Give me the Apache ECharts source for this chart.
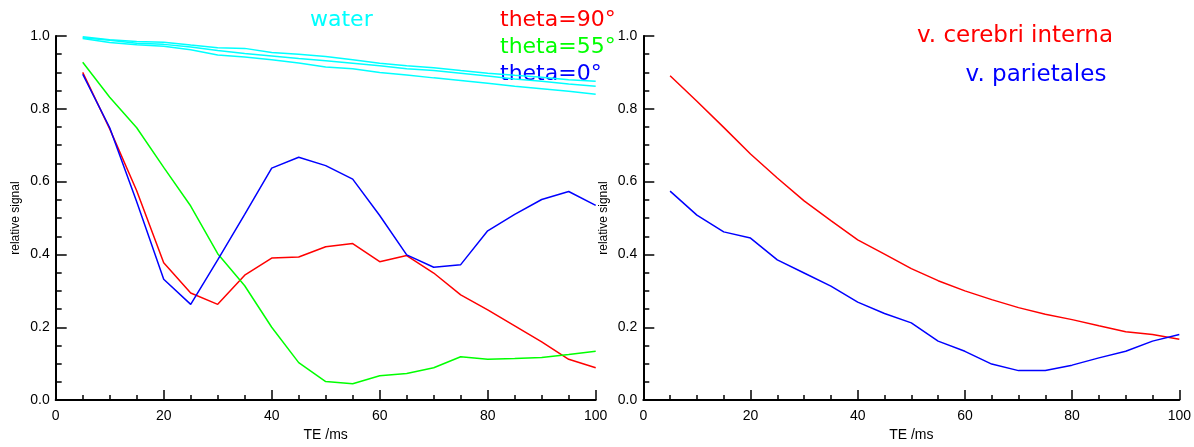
<!DOCTYPE html>
<html>
<head>
<meta charset="utf-8">
<script src="https://cdn.jsdelivr.net/npm/echarts@6/dist/echarts.min.js"></script>
<style>
html,body{margin:0;padding:0;background:#fff;}
#chart{width:1194px;height:447px;}
</style>
</head>
<body>
<div id="chart"></div>
<script>
// TE values (ms)
const te = [5,10,15,20,25,30,35,40,45,50,55,60,65,70,75,80,85,90,95,100];

// Left panel
const water1 = [0.998,0.990,0.985,0.983,0.975,0.968,0.966,0.955,0.950,0.944,0.935,0.925,0.918,0.913,0.905,0.898,0.892,0.887,0.880,0.876];
const water2 = [0.995,0.988,0.980,0.977,0.970,0.960,0.952,0.945,0.938,0.932,0.925,0.918,0.910,0.905,0.898,0.890,0.882,0.876,0.868,0.862];
const water3 = [0.993,0.982,0.976,0.972,0.962,0.948,0.942,0.935,0.926,0.915,0.910,0.900,0.893,0.885,0.878,0.870,0.862,0.855,0.848,0.840];
const theta90 = [0.900,0.745,0.575,0.377,0.294,0.263,0.343,0.390,0.393,0.421,0.430,0.380,0.397,0.349,0.289,0.248,0.204,0.160,0.112,0.089];
const theta55 = [0.928,0.832,0.748,0.639,0.533,0.402,0.314,0.200,0.103,0.051,0.045,0.067,0.073,0.089,0.119,0.112,0.114,0.117,0.125,0.134];
const theta0  = [0.895,0.748,0.545,0.332,0.263,0.385,0.510,0.637,0.667,0.644,0.607,0.507,0.399,0.365,0.372,0.465,0.510,0.551,0.573,0.535];

// Right panel
const cerebriInterna = [0.891,0.821,0.749,0.676,0.610,0.547,0.493,0.440,0.401,0.361,0.328,0.300,0.276,0.254,0.236,0.221,0.204,0.188,0.180,0.167];
const parietales     = [0.574,0.508,0.462,0.445,0.385,0.349,0.313,0.269,0.238,0.212,0.162,0.134,0.099,0.081,0.081,0.096,0.116,0.134,0.162,0.180];

// Labels
const xName = 'TE /ms';
const yName = 'relative signal';
const leftLabels = ['water','theta=90°','theta=55°','theta=0°'];
const rightLabels = ['v. cerebri interna','v. parietales'];

const RED='#ff0000', GREEN='#00ff00', BLUE='#0000ff', CYAN='#00ffff';

function pts(ys){ return te.map((t,i)=>[t,ys[i]]); }

const axisFont = 'Liberation Sans, Arial, sans-serif';
function xAx(gi){
  return {
    gridIndex: gi, type:'value', min:0, max:100, interval:20,
    name: xName, nameLocation:'middle', nameGap:18,
    nameTextStyle:{color:'#000', fontSize:14, fontFamily:axisFont},
    axisLine:{show:true, onZero:false, lineStyle:{color:'#000', width:2}},
    axisTick:{show:true, inside:true, length:10, lineStyle:{color:'#000', width:1.5}},
    minorTick:{show:true, splitNumber:4, length:5, lineStyle:{color:'#000', width:1.5}},
    axisLabel:{color:'#000', fontSize:14, fontFamily:axisFont, margin:9},
    splitLine:{show:false}
  };
}
function yAx(gi){
  return {
    gridIndex: gi, type:'value', min:0, max:1, interval:0.2,
    name: yName, nameLocation:'middle', nameGap:34,
    nameTextStyle:{color:'#000', fontSize:12, fontFamily:axisFont},
    axisLine:{show:true, onZero:false, lineStyle:{color:'#000', width:2}},
    axisTick:{show:true, inside:true, length:11, lineStyle:{color:'#000', width:1.5}},
    minorTick:{show:true, splitNumber:4, length:6, lineStyle:{color:'#000', width:1.5}},
    axisLabel:{color:'#000', fontSize:14, fontFamily:axisFont, margin:6, formatter:v=>v.toFixed(1)},
    splitLine:{show:false}
  };
}
function line(ys, color, xi){
  return {type:'line', xAxisIndex:xi, yAxisIndex:xi, data:pts(ys), symbol:'none',
    lineStyle:{color:color, width:1.5}, itemStyle:{color:color}, silent:true};
}

const legendFont = 'DejaVu Sans, sans-serif';
function txt(s, x, y, color, size){
  return {type:'text', x:x, y:y, silent:true,
    style:{text:s, fill:color, font:(size||22)+'px '+legendFont, textAlign:'left', textVerticalAlign:'middle'}};
}
function ctxt(s, cx, cy, color, size){
  return {type:'text', x:cx, y:cy, silent:true,
    style:{text:s, fill:color, font:(size||22)+'px '+legendFont, textAlign:'center', textVerticalAlign:'middle'}};
}

const chart = echarts.init(document.getElementById('chart'), null, {renderer:'canvas'});
chart.setOption({
  animation:false,
  backgroundColor:'#fff',
  grid:[
    {left:55.7, top:36, width:540, height:380},
    {left:643.3, top:36, width:540, height:380}
  ],
  xAxis:[xAx(0), xAx(1)],
  yAxis:[yAx(0), yAx(1)],
  series:[
    line(water1, CYAN, 0), line(water2, CYAN, 0), line(water3, CYAN, 0),
    line(theta90, RED, 0), line(theta55, GREEN, 0), line(theta0, BLUE, 0),
    line(cerebriInterna, RED, 1), line(parietales, BLUE, 1)
  ],
  graphic:[
    txt(leftLabels[0], 310, 20, CYAN),
    txt(leftLabels[1], 500, 20, RED),
    txt(leftLabels[2], 500, 47, GREEN),
    txt(leftLabels[3], 500, 74, BLUE),
    ctxt(rightLabels[0], 1015, 36, RED, 23),
    ctxt(rightLabels[1], 1036, 75, BLUE, 23)
  ]
});
</script>
</body>
</html>
